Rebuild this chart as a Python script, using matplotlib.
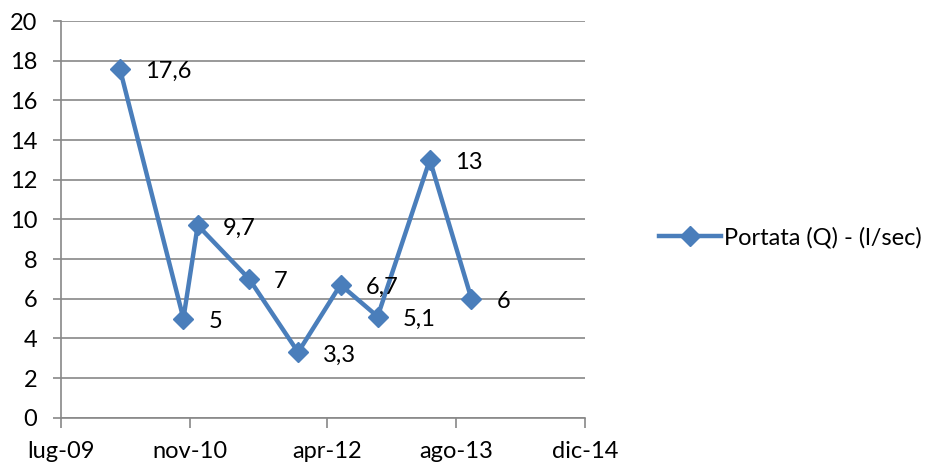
import datetime as dt
import matplotlib
matplotlib.use("Agg")
import matplotlib.pyplot as plt
import matplotlib.dates as mdates

plt.rcParams['font.family'] = ['Lato', 'DejaVu Sans']

# data
dates = [dt.date(2010, 2, 8), dt.date(2010, 10, 6), dt.date(2010, 11, 29),
         dt.date(2011, 6, 11), dt.date(2011, 12, 13), dt.date(2012, 5, 21),
         dt.date(2012, 10, 8), dt.date(2013, 4, 23), dt.date(2013, 9, 27)]
portata = [17.6, 5, 9.7, 7, 3.3, 6.7, 5.1, 13, 6]
tick_dates = [dt.date(2009, 7, 1), dt.date(2010, 11, 1), dt.date(2012, 4, 1),
              dt.date(2013, 8, 1), dt.date(2014, 12, 1)]
tick_labels = ['lug-09', 'nov-10', 'apr-12', 'ago-13', 'dic-14']
series_name = 'Portata (Q) - (l/sec)'

blue = '#4A7EBB'
grey = '#888888'
fs = 17

fig = plt.figure(figsize=(9.3, 4.7), dpi=100)
ax = fig.add_axes([0.0656, 0.1113, 0.5638, 0.8440])

ax.plot(dates, portata, color=blue, lw=3.2, marker='D', markersize=10,
        label=series_name, solid_joinstyle='miter')

for d, v in zip(dates, portata):
    lab = f"{v:g}".replace('.', ',')
    ax.annotate(lab, (mdates.date2num(d), v), xytext=(18, -2),
                textcoords='offset points', ha='left', va='center', fontsize=fs)

ax.set_xlim(mdates.date2num(tick_dates[0]), mdates.date2num(tick_dates[-1]))
ax.set_ylim(0, 20)
ax.set_yticks(range(0, 21, 2))
ax.set_xticks([mdates.date2num(t) for t in tick_dates])
ax.set_xticklabels(tick_labels)

ax.yaxis.grid(True, color=grey, lw=1.2)
ax.set_axisbelow(True)
for s in ['top', 'right']:
    ax.spines[s].set_visible(False)
for s in ['left', 'bottom']:
    ax.spines[s].set_color(grey)
    ax.spines[s].set_linewidth(1.2)
ax.tick_params(axis='y', length=6, width=1.2, color=grey, pad=11, labelsize=fs)
ax.tick_params(axis='x', length=7, width=1.2, color=grey, pad=10, labelsize=fs)

fig.legend(loc='center left', bbox_to_anchor=(0.686, 0.494), frameon=False,
           fontsize=fs, handlelength=2.6, handletextpad=0.15)

fig.savefig('out.png', dpi=100)
